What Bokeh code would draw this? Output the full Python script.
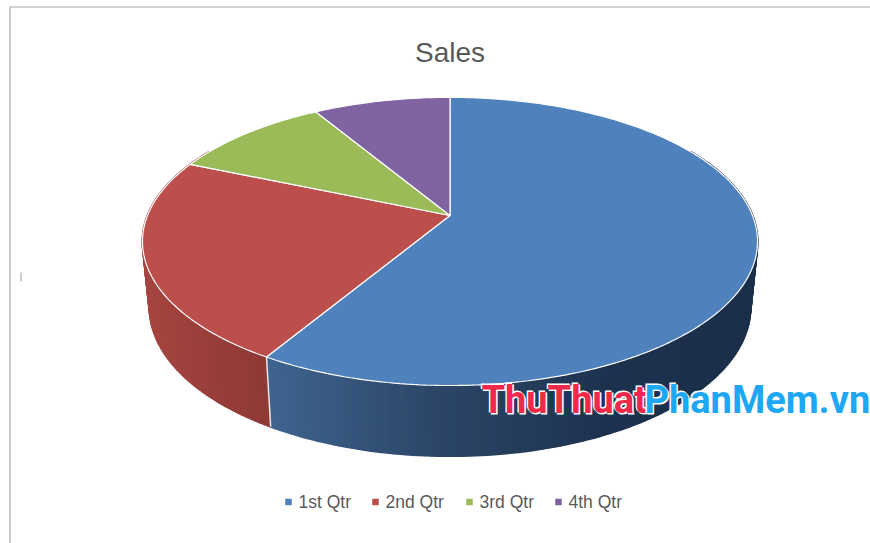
import math
from bokeh.plotting import figure
from bokeh.models import Range1d
from bokeh.core.properties import value
from bokeh.embed import file_html
from bokeh.resources import INLINE

categories = ["1st Qtr", "2nd Qtr", "3rd Qtr", "4th Qtr"]
sales = [8.2, 3.2, 1.4, 1.2]
colors = ["#4f81bd", "#bc4f4b", "#9bbb59", "#8064a2"]
title = "Sales"
legend_x = [288, 375, 469, 558]
watermark = ["ThuThuat", "PhanMem.vn"]

W, H = 870, 543
CX, CY, A, B, K = 449.5, 215.0, 302.5, 139.4, 0.18
CX2, CY2, A2, B2 = 449.5, 280.0, 295.6, 144.0


def top(deg):
    t = math.radians(deg)
    u, v = math.sin(t), math.cos(t)
    d = 1 + K * v
    return CX + A * u / d, CY - B * v / d


def bot(deg):
    t = math.radians(deg)
    u, v = math.sin(t), math.cos(t)
    d = 1 + K * v
    return CX2 + A2 * u / d, CY2 - B2 * v / d


def lerp(stops, x):
    if x <= stops[0][0]:
        return stops[0][1]
    for (x0, c0), (x1, c1) in zip(stops, stops[1:]):
        if x <= x1:
            f = (x - x0) / (x1 - x0)
            return tuple(a + (b - a) * f for a, b in zip(c0, c1))
    return stops[-1][1]


blue_side = [(270, (63, 100, 143)), (430, (45, 71, 105)), (600, (30, 51, 80)), (755, (27, 47, 74))]
red_side = [(143, (166, 70, 65)), (215, (152, 62, 58)), (270, (142, 58, 54))]

p = figure(width=W, height=H, x_range=Range1d(0, W), y_range=Range1d(H, 0),
           output_backend="svg", toolbar_location=None, min_border=0)
p.axis.visible = False
p.grid.visible = False
p.outline_line_color = None
p.background_fill_color = "white"

total = sum(sales)
angles = [0.0]
for s in sales:
    angles.append(angles[-1] + 360.0 * s / total)

# frame
p.line([870, 9.5, 9.5], [6.5, 6.5, 543], line_color="#a6a6a6", line_width=1.2)
p.line([20.5, 20.5], [272, 281], line_color="#9a9a9a", line_width=1)

# side wall
step = 1.0
d = 60.0
while d < 300.0:
    e = d + step
    x0, y0 = top(d)
    x1, y1 = top(e)
    x2, y2 = bot(e)
    x3, y3 = bot(d)
    mx = (x0 + x1 + x2 + x3) / 4
    stops = blue_side if d < angles[1] else red_side
    r, g, b = lerp(stops, mx)
    col = "#%02x%02x%02x" % (int(r), int(g), int(b))
    p.patch([x0, x1, x2, x3], [y0, y1, y2, y3], fill_color=col, line_color=col, line_width=2)
    d = e

# white divider on the wall
sx0, sy0 = top(angles[1])
sx1, sy1 = bot(angles[1])
p.line([sx0, sx1], [sy0, sy1], line_color="#e8e8e8", line_width=1.5)

# top face
for i, c in enumerate(colors):
    a0, a1 = angles[i], angles[i + 1]
    n = max(2, int((a1 - a0) / 1.0))
    pts = [top(a0 + (a1 - a0) * j / n) for j in range(n + 1)]
    xs = [CX] + [q[0] for q in pts]
    ys = [CY] + [q[1] for q in pts]
    p.patch(xs, ys, fill_color=c, line_color="white", line_width=1.2)

# title
p.text([449.5], [52], text=[title], text_font=value("Liberation Sans"), text_font_size="28px",
       text_color="#595959", text_align="center", text_baseline="middle")

# legend
p.scatter(legend_x, [501.5] * 4, marker="square", size=6.5, fill_color=colors, line_color=None)
p.text([x + 10 for x in legend_x], [501] * 4, text=categories, text_font=value("Liberation Sans"),
       text_font_size="17.5px", text_color="#595959", text_align="left", text_baseline="middle")

# watermark
FONT = value("Roboto")
SIZE = "38px"
for word, wx, col in ((watermark[0], 481, "#f0284a"), (watermark[1], 644, "#1ea7f5")):
    p.text([wx], [399], text=[word], text_font=FONT, text_font_size=SIZE, text_font_style="bold",
           text_color="white", text_outline_color="white", text_align="left", text_baseline="middle",
           x_offset=1, y_offset=1)
    p.text([wx], [399], text=[word], text_font=FONT, text_font_size=SIZE, text_font_style="bold",
           text_color="white", text_outline_color="white", text_align="left", text_baseline="middle",
           x_offset=-1, y_offset=-1)
    p.text([wx], [399], text=[word], text_font=FONT, text_font_size=SIZE, text_font_style="bold",
           text_color=col, text_align="left", text_baseline="middle")

open("out.html", "w").write(file_html(p, INLINE))
